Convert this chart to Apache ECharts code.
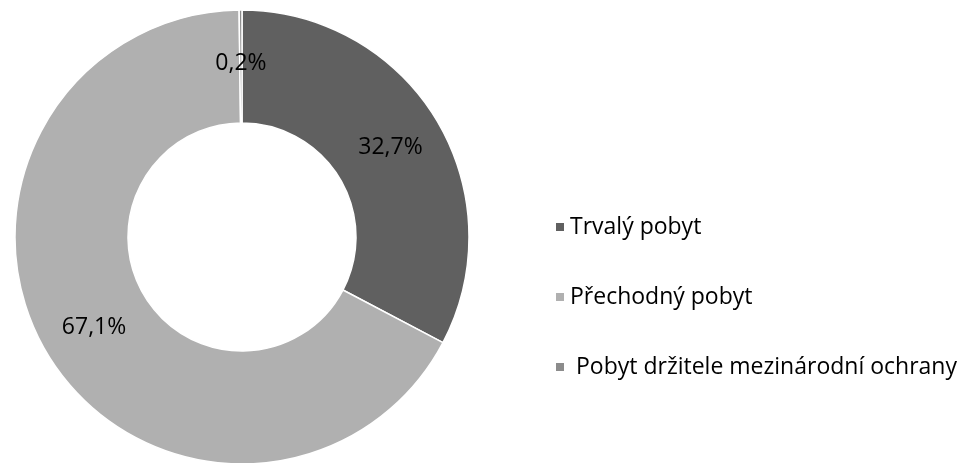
<!DOCTYPE html>
<html>
<head>
<meta charset="utf-8">
<script src="https://cdn.jsdelivr.net/npm/echarts@6/dist/echarts.min.js"></script>
<style>
  html, body { margin: 0; padding: 0; background: #fff; }
  #chart { width: 963px; height: 463px; }
</style>
</head>
<body>
<div id="chart"></div>
<script>
const categories = ["Trvalý pobyt", "Přechodný pobyt", "Pobyt držitele mezinárodní ochrany"];
const shares = [32.7, 67.1, 0.2];
const colors = ["#606060", "#b0b0b0", "#8c8c8c"];

const font = "'Open Sans', Lato, sans-serif";
const chart = echarts.init(document.getElementById("chart"));

chart.setOption({
  backgroundColor: "#fff",
  animation: false,
  color: colors,
  legend: {
    orient: "vertical",
    left: 549,
    top: 208,
    itemWidth: 10,
    itemHeight: 10,
    itemGap: 42,
    icon: "rect",
    textStyle: { color: "#000", fontFamily: font, fontSize: 23, lineHeight: 28 },
    data: categories.map((name, i) => (
      i === 2 ? { name, textStyle: { padding: [0, 0, 0, 6] } } : { name }
    ))
  },
  series: [
    {
      type: "pie",
      center: [242, 237],
      radius: [114, 227],
      startAngle: 90,
      clockwise: true,
      avoidLabelOverlap: false,
      itemStyle: { borderColor: "#fff", borderWidth: 1.5 },
      label: {
        show: true,
        position: "inside",
        color: "#000",
        fontFamily: font,
        fontSize: 23,
        formatter: p => p.value.toFixed(1).replace(".", ",") + "%"
      },
      labelLine: { show: false },
      emphasis: { disabled: true },
      data: categories.map((name, i) => ({ name, value: shares[i] }))
    }
  ]
});
</script>
</body>
</html>
